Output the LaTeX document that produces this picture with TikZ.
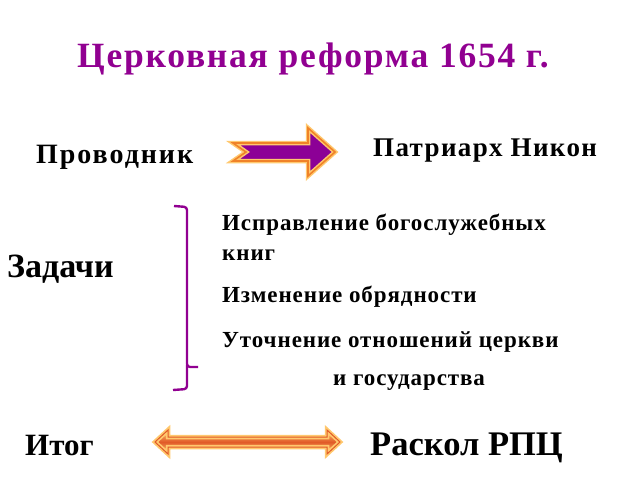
\documentclass[tikz,border=0pt]{standalone}
\usepackage{fontspec}
\setmainfont{Liberation Serif}
\usetikzlibrary{positioning}
\usetikzlibrary{calc}
\definecolor{reformpurple}{RGB}{145,0,145}
\definecolor{arrowpurple}{RGB}{140,0,150}
\definecolor{rimlight}{RGB}{255,200,110}
\definecolor{rimdark}{RGB}{240,130,40}
\definecolor{splitorange}{RGB}{225,90,40}

\begin{document}
\begin{tikzpicture}[x=1pt,y=-1pt,
		plain/.style 2 args={anchor=base west,inner sep=0pt,
			font=\bfseries\fontsize{#1}{#1}\selectfont\addfontfeature{LetterSpace=#2}},
		rimouter/.style={draw=rimlight,line width=4.5pt,line join=miter},
		riminner/.style={draw=rimdark,line width=1.6pt,line join=miter}]
		\useasboundingbox (0,0) rectangle (640,480);
		\node [plain={35.5}{5},text=reformpurple] at (77,67) (title) {Церковная реформа 1654 г.};
		\node [plain={28}{7}] at (36,163) (leader) {Проводник};
		\node [plain={27}{5}] at (373,156) (nikon) {Патриарх Никон};
		\node [plain={34}{0}] at (7,277) (tasks) {Задачи};
		\node [plain={23}{4}] at (222,230) (task1) {Исправление богослужебных};
		\node [plain={23}{4}] at (222,260) (task1b) {книг};
		\node [plain={23}{4}] at (222,302) (task2) {Изменение обрядности};
		\node [plain={23}{4}] at (222,347) (task3) {Уточнение отношений церкви};
		\node [plain={23}{4}] at (333,385) (task3b) {и государства};
		\node [plain={31}{0}] at (25,455) (result) {Итог};
		\node [plain={34.5}{0}] at (370,455) (schism) {Раскол РПЦ};
		% notched arrow to the patriarch
		\coordinate (pa) at (233,152);
		\coordinate (pb) at (335,152);
		\path [fill=arrowpurple,rimouter]
			($(pa)+(0,-9)$) -- ($(pb)+(-27,-9)$) -- ($(pb)+(-27,-24)$) -- (pb)
			-- ($(pb)+(-27,24)$) -- ($(pb)+(-27,9)$) -- ($(pa)+(0,9)$) -- ($(pa)+(13,0)$) -- cycle;
		\path [riminner]
			($(pa)+(0,-9)$) -- ($(pb)+(-27,-9)$) -- ($(pb)+(-27,-24)$) -- (pb)
			-- ($(pb)+(-27,24)$) -- ($(pb)+(-27,9)$) -- ($(pa)+(0,9)$) -- ($(pa)+(13,0)$) -- cycle;
		% bracket
		\draw [reformpurple,line width=2.4pt,rounded corners=3pt]
			(174,206) -- (187,207) -- (187,367) -- (198,367);
		\draw [reformpurple,line width=2.4pt,rounded corners=3pt]
			(187,365) -- (187,389) -- (173,390);
		% double arrow to the schism
		\coordinate (ra) at (155,442);
		\coordinate (rb) at (340,442);
		\path [rimouter,top color=rimlight,bottom color=rimlight,middle color=splitorange]
			(ra) -- ($(ra)+(13,-12)$) -- ($(ra)+(13,-5)$) -- ($(rb)+(-13,-5)$) -- ($(rb)+(-13,-12)$) -- (rb)
			-- ($(rb)+(-13,12)$) -- ($(rb)+(-13,5)$) -- ($(ra)+(13,5)$) -- ($(ra)+(13,12)$) -- cycle;
		\path [riminner,draw=splitorange,line width=1pt]
			(ra) -- ($(ra)+(13,-12)$) -- ($(ra)+(13,-5)$) -- ($(rb)+(-13,-5)$) -- ($(rb)+(-13,-12)$) -- (rb)
			-- ($(rb)+(-13,12)$) -- ($(rb)+(-13,5)$) -- ($(ra)+(13,5)$) -- ($(ra)+(13,12)$) -- cycle;
		\end{tikzpicture}
\end{document}
